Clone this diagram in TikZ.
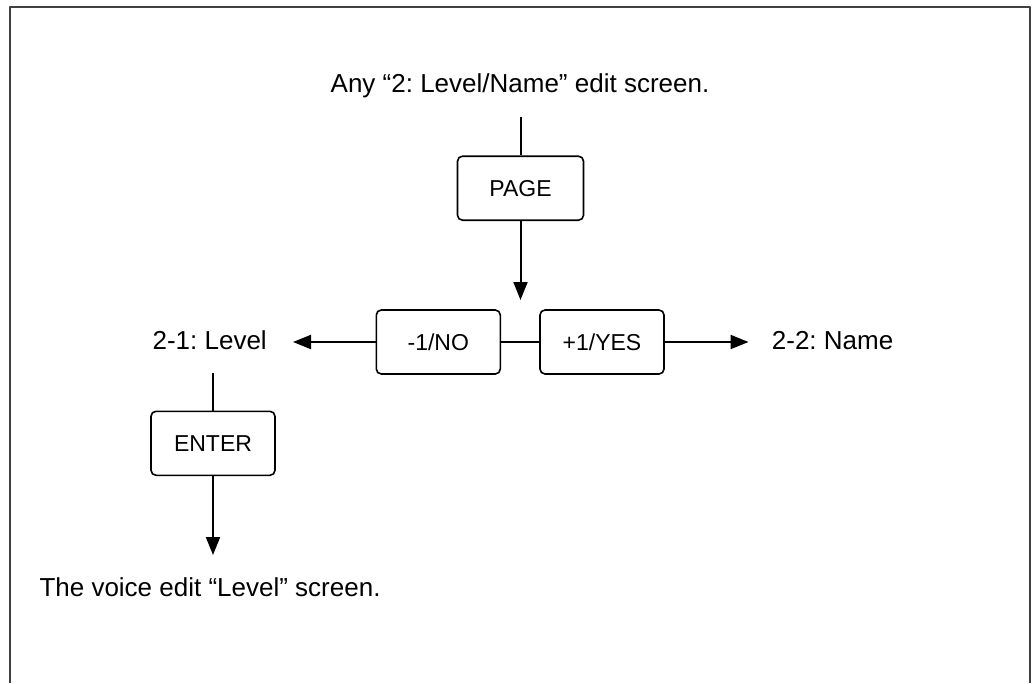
\documentclass[tikz,border=0pt]{standalone}
\usepackage{fontspec}
\setmainfont{Liberation Sans}
\usetikzlibrary{arrows.meta}
\frenchspacing

\begin{document}
\begin{tikzpicture}[x=1pt,y=-1pt,>={Triangle[length=18pt,width=14pt]},line join=round,
    frame/.style={line width=2pt,black!75},
    wire/.style={line width=2pt},
    key/.style={draw,rounded corners=5pt,line width=1.6pt,minimum width=124pt,
      minimum height=64pt,inner sep=0pt,font=\fontsize{23}{27}\selectfont,
      text height=16.5pt,text depth=0pt},
    screen/.style={inner sep=0pt,font=\fontsize{26}{31}\selectfont}]
    \useasboundingbox (0,0) rectangle (1032,683);

    % The open frame round the chart.
    \draw[frame] (10,683) -- (10,7) -- (1030,7) -- (1030,683);

    % The screens named on the chart.
    \node[screen,anchor=base] (anyedit) at (520,92.5) {Any “2: Level/Name” edit screen.};
    \node[screen,anchor=base] (level) at (209.7,349.5) {2-1: Level};
    \node[screen,anchor=base west] (name) at (771.7,349.5) {2-2: Name};
    \node[screen,anchor=base west] (voiceedit) at (39.3,596.7) {The voice edit “Level” screen.};

    % The keys.
    \node[key,minimum width=126pt] (page) at (520.5,188.2) {PAGE};
    \node[key] (minusno) at (438.3,342) {-1/NO};
    \node[key] (plusyes) at (602,342) {+1/YES};
    \node[key] (enter) at (213,443.3) {ENTER};

    % Free ends of the connectors.
    \coordinate (pagein) at (520.5,117);
    \coordinate (pagetip) at (520.5,300);
    \coordinate (levelin) at (293,342);
    \coordinate (namein) at (748.5,342);
    \coordinate (enterin) at (213,373);
    \coordinate (entertip) at (213,555);

    % The connectors.
    \draw[wire] (pagein) -- (page);
    \draw[wire,->] (page) -- (pagetip);
    \draw[wire] (minusno) -- (plusyes);
    \draw[wire,->] (minusno) -- (levelin);
    \draw[wire,->] (plusyes) -- (namein);
    \draw[wire] (enterin) -- (enter);
    \draw[wire,->] (enter) -- (entertip);
  \end{tikzpicture}
\end{document}
